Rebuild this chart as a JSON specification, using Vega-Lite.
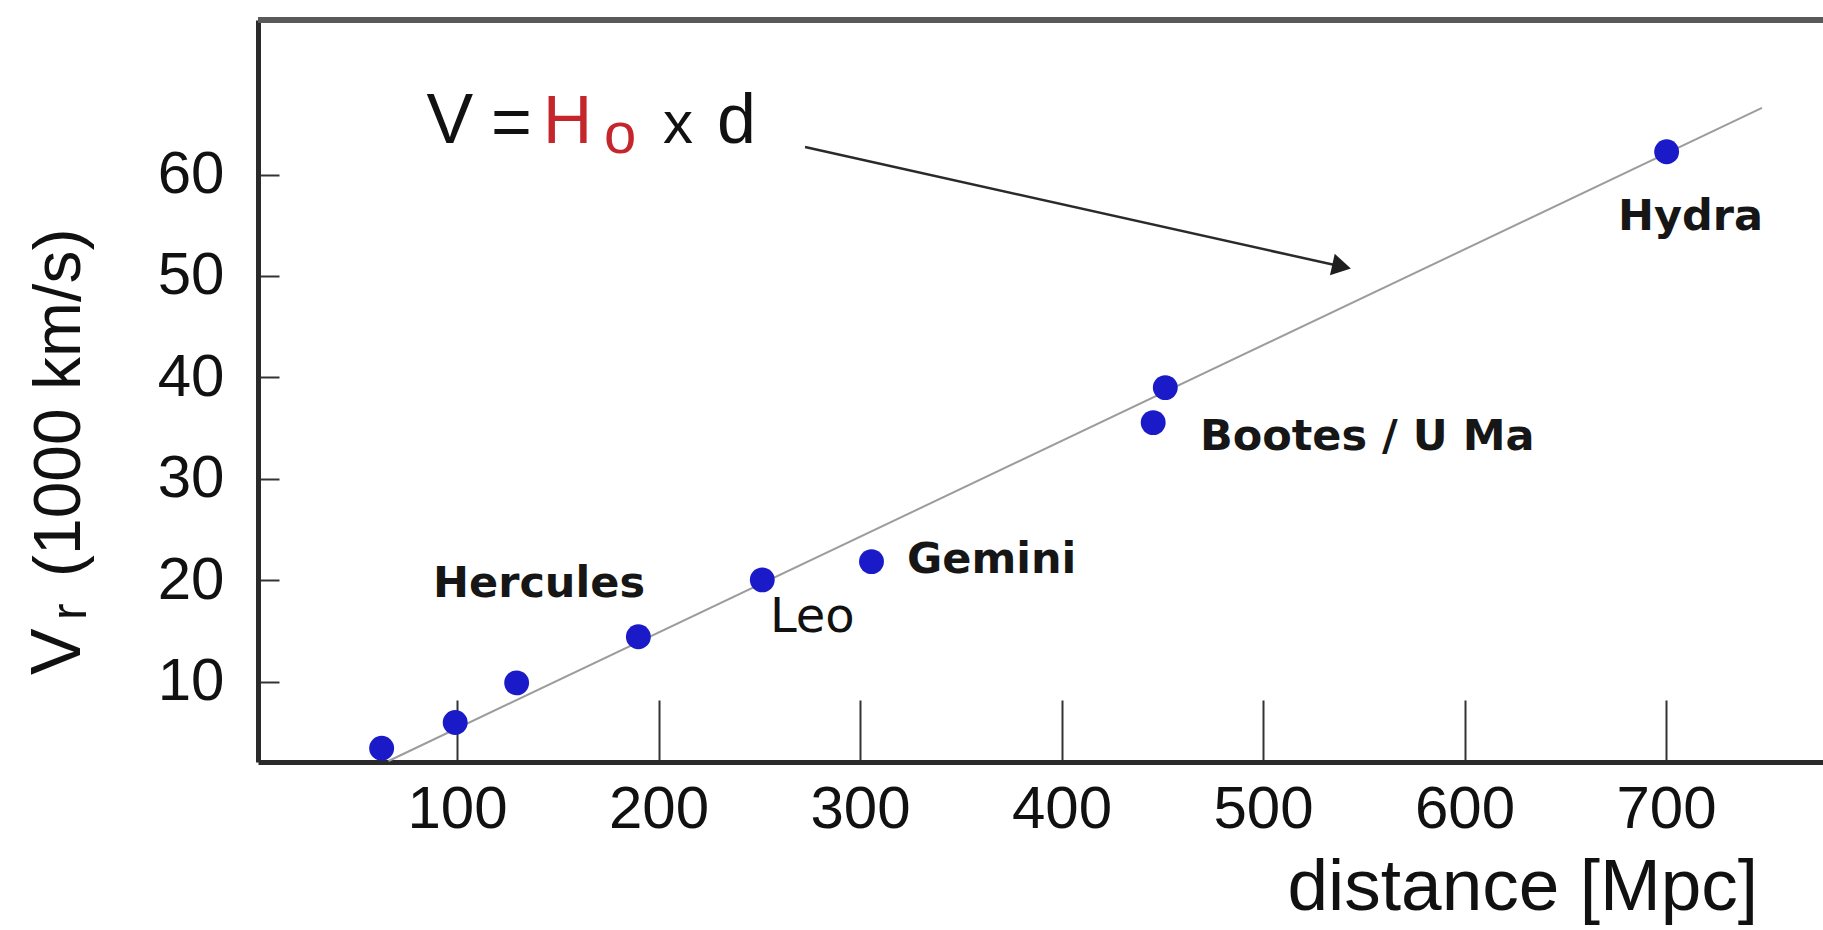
{
  "$schema": "https://vega.github.io/schema/vega-lite/v6.json",
  "width": 1565,
  "height": 742,
  "autosize": {"type": "none"},
  "padding": {"left": 258, "top": 20, "right": 0, "bottom": 168},
  "background": "white",
  "config": {"view": {"stroke": null}, "font": "Liberation Sans"},
  "datasets": {
    "clusters": [
      {"name": "c1", "d": 62.6, "v": 3.45},
      {"name": "c2", "d": 99.1, "v": 6.0},
      {"name": "Hercules", "d": 129.6, "v": 9.9},
      {"name": "c4", "d": 190.0, "v": 14.45},
      {"name": "Leo", "d": 251.5, "v": 20.05},
      {"name": "Gemini", "d": 305.7, "v": 21.85},
      {"name": "Bootes", "d": 445.5, "v": 35.55},
      {"name": "U Ma", "d": 451.5, "v": 39.0},
      {"name": "Hydra", "d": 700.3, "v": 62.25}
    ],
    "fit": [{"d": 66, "v": 2.2}, {"d": 747.6, "v": 66.56}],
    "arrow": [{"d": 272.7, "v": 62.71, "d2": 539.0, "v2": 50.93}],
    "arrowhead": [{"d": 539.0, "v": 50.93}],
    "boldLabels": [
      {"label": "Hercules", "d": 88.1, "v": 18.36},
      {"label": "Gemini", "d": 323.3, "v": 20.73},
      {"label": "Bootes / U Ma", "d": 468.7, "v": 32.85},
      {"label": "Hydra", "d": 676.2, "v": 54.53}
    ],
    "leo": [{"label": "Leo", "d": 255.3, "v": 14.91}],
    "fV": [{"t": "V", "d": 96.5, "v": 63.11}],
    "fEqD": [{"t": "=", "d": 127.05, "v": 62.81}, {"t": "d", "d": 238.7, "v": 63.11}],
    "fX": [{"t": "x", "d": 209.7, "v": 63.11}],
    "fH": [{"t": "H", "d": 154.8, "v": 63.11}],
    "fO": [{"t": "o", "d": 180.9, "v": 62.12}],
    "xTitle": [{"t": "distance [Mpc]", "d": 745.7, "v": -12.49}],
    "yTitleV": [{"t": "V", "d": -87.1, "v": 10.67}],
    "yTitleR": [{"t": "r", "d": -84.1, "v": 16.09}],
    "yTitleRest": [{"t": "(1000 km/s)", "d": -87.1, "v": 20.33}]
  },
  "layer": [
    {
      "data": {"values": [{}]},
      "mark": {"type": "rule", "stroke": "#5a5a5a", "strokeWidth": 6},
      "encoding": {
        "y": {"datum": 75.23, "type": "quantitative", "title": null, "scale": {"domain": [2.1, 75.23], "nice": false, "zero": false}}
      }
    },
    {
      "data": {"name": "fit"},
      "mark": {"type": "line", "stroke": "#9c9c9c", "strokeWidth": 2},
      "encoding": {
        "x": {"field": "d", "type": "quantitative", "title": null, "scale": {"domain": [1.24, 777.9], "nice": false, "zero": false}},
        "y": {"field": "v", "type": "quantitative", "title": null, "scale": {"domain": [2.1, 75.23], "nice": false, "zero": false}}
      }
    },
    {
      "data": {"name": "arrow"},
      "mark": {"type": "rule", "stroke": "#2a2a2a", "strokeWidth": 2.5},
      "encoding": {
        "x": {"field": "d", "type": "quantitative", "title": null, "scale": {"domain": [1.24, 777.9], "nice": false, "zero": false}},
        "y": {"field": "v", "type": "quantitative", "title": null, "scale": {"domain": [2.1, 75.23], "nice": false, "zero": false}},
        "x2": {"field": "d2"},
        "y2": {"field": "v2"}
      }
    },
    {
      "data": {"name": "arrowhead"},
      "mark": {"type": "point", "shape": "triangle-right", "filled": true, "color": "#1e1e1e", "opacity": 1, "size": 480, "angle": 12.55},
      "encoding": {
        "x": {"field": "d", "type": "quantitative", "title": null, "scale": {"domain": [1.24, 777.9], "nice": false, "zero": false}},
        "y": {"field": "v", "type": "quantitative", "title": null, "scale": {"domain": [2.1, 75.23], "nice": false, "zero": false}}
      }
    },
    {
      "data": {"name": "clusters"},
      "mark": {"type": "circle", "color": "#1a1ac8", "opacity": 1, "size": 620},
      "encoding": {
        "x": {"field": "d", "type": "quantitative", "title": null,
          "scale": {"domain": [1.24, 777.9], "nice": false, "zero": false},
          "axis": {"values": [100, 200, 300, 400, 500, 600, 700], "title": null, "grid": false,
            "tickSize": -62, "tickWidth": 2, "tickColor": "#333333",
            "domainColor": "#2a2a2a", "domainWidth": 5,
            "labelFont": "Liberation Sans", "labelFontSize": 60, "labelColor": "#111111",
            "labelPadding": 80, "labelFlush": false, "labelOverlap": false}},
        "y": {"field": "v", "type": "quantitative", "title": null,
          "scale": {"domain": [2.1, 75.23], "nice": false, "zero": false},
          "axis": {"values": [10, 20, 30, 40, 50, 60], "title": null, "grid": false,
            "tickSize": -21, "tickWidth": 2, "tickColor": "#333333",
            "domainColor": "#2a2a2a", "domainWidth": 5,
            "labelFont": "Liberation Sans", "labelFontSize": 60, "labelColor": "#111111",
            "labelPadding": 55, "labelFlush": false, "labelOverlap": false}}
      }
    },
    {
      "data": {"name": "boldLabels"},
      "mark": {"type": "text", "font": "DejaVu Sans", "fontWeight": "bold", "fontSize": 43, "align": "left", "baseline": "alphabetic", "color": "#161616"},
      "encoding": {
        "x": {"field": "d", "type": "quantitative", "title": null, "scale": {"domain": [1.24, 777.9], "nice": false, "zero": false}},
        "y": {"field": "v", "type": "quantitative", "title": null, "scale": {"domain": [2.1, 75.23], "nice": false, "zero": false}},
        "text": {"field": "label"}
      }
    },
    {
      "data": {"name": "leo"},
      "mark": {"type": "text", "font": "DejaVu Sans", "fontSize": 48, "align": "left", "baseline": "alphabetic", "color": "#111111"},
      "encoding": {
        "x": {"field": "d", "type": "quantitative", "title": null, "scale": {"domain": [1.24, 777.9], "nice": false, "zero": false}},
        "y": {"field": "v", "type": "quantitative", "title": null, "scale": {"domain": [2.1, 75.23], "nice": false, "zero": false}},
        "text": {"field": "label"}
      }
    },
    {
      "data": {"name": "fV"},
      "mark": {"type": "text", "font": "Liberation Sans Narrow, Liberation Sans", "fontSize": 70, "align": "center", "baseline": "alphabetic", "color": "#111111"},
      "encoding": {
        "x": {"field": "d", "type": "quantitative", "title": null, "scale": {"domain": [1.24, 777.9], "nice": false, "zero": false}},
        "y": {"field": "v", "type": "quantitative", "title": null, "scale": {"domain": [2.1, 75.23], "nice": false, "zero": false}},
        "text": {"field": "t"}
      }
    },
    {
      "data": {"name": "fEqD"},
      "mark": {"type": "text", "font": "Liberation Sans", "fontSize": 70, "align": "center", "baseline": "alphabetic", "color": "#111111"},
      "encoding": {
        "x": {"field": "d", "type": "quantitative", "title": null, "scale": {"domain": [1.24, 777.9], "nice": false, "zero": false}},
        "y": {"field": "v", "type": "quantitative", "title": null, "scale": {"domain": [2.1, 75.23], "nice": false, "zero": false}},
        "text": {"field": "t"}
      }
    },
    {
      "data": {"name": "fX"},
      "mark": {"type": "text", "font": "Liberation Sans", "fontSize": 60, "align": "center", "baseline": "alphabetic", "color": "#111111"},
      "encoding": {
        "x": {"field": "d", "type": "quantitative", "title": null, "scale": {"domain": [1.24, 777.9], "nice": false, "zero": false}},
        "y": {"field": "v", "type": "quantitative", "title": null, "scale": {"domain": [2.1, 75.23], "nice": false, "zero": false}},
        "text": {"field": "t"}
      }
    },
    {
      "data": {"name": "fH"},
      "mark": {"type": "text", "font": "Liberation Sans Narrow, Liberation Sans", "fontSize": 68, "align": "center", "baseline": "alphabetic", "color": "#c4262b"},
      "encoding": {
        "x": {"field": "d", "type": "quantitative", "title": null, "scale": {"domain": [1.24, 777.9], "nice": false, "zero": false}},
        "y": {"field": "v", "type": "quantitative", "title": null, "scale": {"domain": [2.1, 75.23], "nice": false, "zero": false}},
        "text": {"field": "t"}
      }
    },
    {
      "data": {"name": "fO"},
      "mark": {"type": "text", "font": "Liberation Sans", "fontSize": 58, "align": "center", "baseline": "alphabetic", "color": "#c4262b"},
      "encoding": {
        "x": {"field": "d", "type": "quantitative", "title": null, "scale": {"domain": [1.24, 777.9], "nice": false, "zero": false}},
        "y": {"field": "v", "type": "quantitative", "title": null, "scale": {"domain": [2.1, 75.23], "nice": false, "zero": false}},
        "text": {"field": "t"}
      }
    },
    {
      "data": {"name": "xTitle"},
      "mark": {"type": "text", "font": "Liberation Sans", "fontSize": 73, "align": "right", "baseline": "alphabetic", "color": "#111111"},
      "encoding": {
        "x": {"field": "d", "type": "quantitative", "title": null, "scale": {"domain": [1.24, 777.9], "nice": false, "zero": false}},
        "y": {"field": "v", "type": "quantitative", "title": null, "scale": {"domain": [2.1, 75.23], "nice": false, "zero": false}},
        "text": {"field": "t"}
      }
    },
    {
      "data": {"name": "yTitleV"},
      "mark": {"type": "text", "font": "Liberation Sans", "fontSize": 70, "angle": 270, "align": "left", "baseline": "alphabetic", "color": "#111111"},
      "encoding": {
        "x": {"field": "d", "type": "quantitative", "title": null, "scale": {"domain": [1.24, 777.9], "nice": false, "zero": false}},
        "y": {"field": "v", "type": "quantitative", "title": null, "scale": {"domain": [2.1, 75.23], "nice": false, "zero": false}},
        "text": {"field": "t"}
      }
    },
    {
      "data": {"name": "yTitleR"},
      "mark": {"type": "text", "font": "Liberation Sans", "fontSize": 50, "angle": 270, "align": "left", "baseline": "alphabetic", "color": "#111111"},
      "encoding": {
        "x": {"field": "d", "type": "quantitative", "title": null, "scale": {"domain": [1.24, 777.9], "nice": false, "zero": false}},
        "y": {"field": "v", "type": "quantitative", "title": null, "scale": {"domain": [2.1, 75.23], "nice": false, "zero": false}},
        "text": {"field": "t"}
      }
    },
    {
      "data": {"name": "yTitleRest"},
      "mark": {"type": "text", "font": "Liberation Sans", "fontSize": 66, "angle": 270, "align": "left", "baseline": "alphabetic", "color": "#111111"},
      "encoding": {
        "x": {"field": "d", "type": "quantitative", "title": null, "scale": {"domain": [1.24, 777.9], "nice": false, "zero": false}},
        "y": {"field": "v", "type": "quantitative", "title": null, "scale": {"domain": [2.1, 75.23], "nice": false, "zero": false}},
        "text": {"field": "t"}
      }
    }
  ]
}
